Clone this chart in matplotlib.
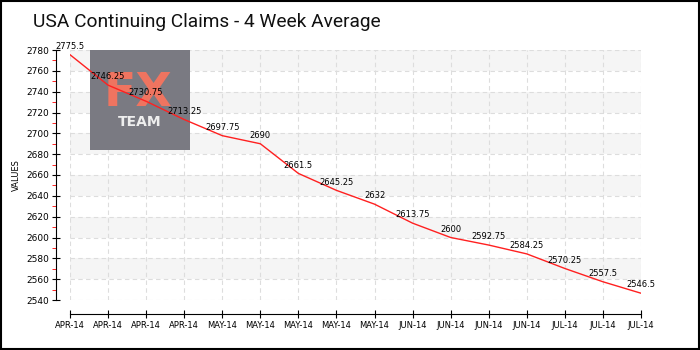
import numpy as np
import matplotlib.pyplot as plt
from matplotlib.patches import Rectangle

title = 'USA Continuing Claims - 4 Week Average'
months = ['APR-14'] * 4 + ['MAY-14'] * 5 + ['JUN-14'] * 4 + ['JUL-14'] * 3
claims = [2775.5, 2746.25, 2730.75, 2713.25, 2697.75, 2690, 2661.5, 2645.25,
          2632, 2613.75, 2600, 2592.75, 2584.25, 2570.25, 2557.5, 2546.5]
y_ticks = [2540, 2560, 2580, 2600, 2620, 2640, 2660, 2680, 2700, 2720, 2740, 2760, 2780]

fig = plt.figure(figsize=(7, 3.5), dpi=100)
fig.patch.set_facecolor('white')

# border round the whole image
fig.add_artist(Rectangle((0.001, 0.002), 0.997, 0.995, transform=fig.transFigure,
                         fill=False, edgecolor='black', linewidth=1.5))

fig.text(33 / 700, 1 - 22 / 350, title, fontsize=13.8, family='Roboto',
         va='center', ha='left', color='#111111')

ax = fig.add_axes([70 / 700, 1 - 300 / 350, 571 / 700, 250 / 350])
x = np.arange(len(claims))
ax.set_xlim(0, len(claims) - 1)
ax.set_ylim(2540, 2780)

# alternating background bands
for lo in y_ticks[:-1]:
    if (lo - 2540) // 20 % 2 == 1:
        ax.axhspan(lo, lo + 20, color='#f5f5f5', zorder=0, linewidth=0)

ax.grid(True, linestyle=(0, (4, 3)), color='#dddddd', linewidth=0.8, zorder=1)
ax.set_axisbelow(True)

# logo box, kept under the line and labels
ax.add_artist(Rectangle((90 / 700, 1 - 150 / 350), 100 / 700, 100 / 350,
                        transform=fig.transFigure, facecolor='#7a7a82',
                        edgecolor='none', zorder=2, clip_on=False))
ax.text(138 / 700, 1 - 94 / 350, 'FX', fontsize=34, color='#ef7460',
        ha='center', va='center', fontweight='bold', transform=fig.transFigure, zorder=3)
ax.text(140 / 700, 1 - 122 / 350, 'TEAM', fontsize=10, color='#eeeeee',
        ha='center', va='center', fontweight='bold', transform=fig.transFigure, zorder=3)

ax.plot(x, claims, color='#ff2020', linewidth=1, zorder=4)
for xi, v in zip(x, claims):
    ax.annotate('{:g}'.format(v), (xi, v), xytext=(0, 6), textcoords='offset points',
                ha='center', va='center', fontsize=6, zorder=5)

for s in ['top', 'right']:
    ax.spines[s].set_visible(False)
ax.spines['left'].set_position(('outward', 10))
ax.spines['bottom'].set_position(('outward', 10))

ax.set_yticks(y_ticks)
ax.set_yticks([t + 10 for t in y_ticks[:-1]], minor=True)
ax.tick_params(axis='y', which='major', direction='inout', length=6, labelsize=6.5, pad=2)
ax.tick_params(axis='y', which='minor', direction='out', length=3, color='red')
ax.set_xticks(x)
ax.set_xticklabels(months)
ax.tick_params(axis='x', direction='inout', length=6, labelsize=6, pad=2)

ax.set_ylabel('VALUES', fontsize=6, labelpad=4)

fig.savefig('out.png', dpi=100)
